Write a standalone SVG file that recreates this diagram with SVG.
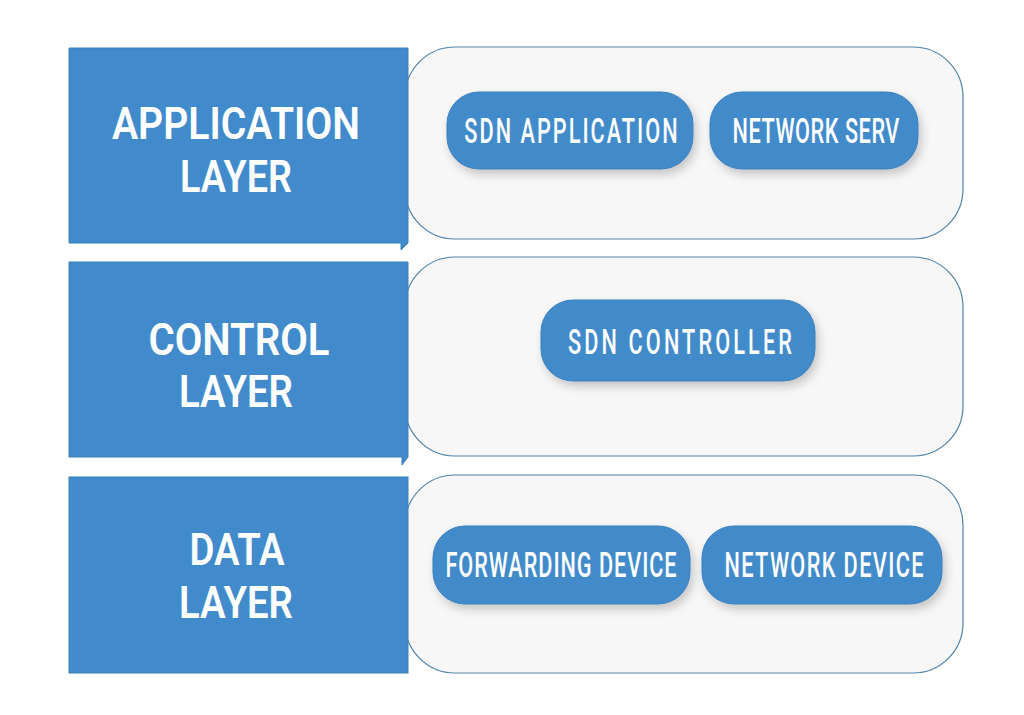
<svg xmlns="http://www.w3.org/2000/svg" width="1024" height="715" viewBox="0 0 1024 715">
<style>
.layer{fill:#418bcc;stroke:#3a80bd;stroke-width:1}
.panel{fill:#f7f7f7;stroke:#4f83ab;stroke-width:1.2}
.pill{fill:#428bca;stroke:#3a7fbc;stroke-width:1;filter:url(#sh)}
.lt{font-family:Roboto,"Liberation Sans",sans-serif;font-weight:600;font-size:45px;fill:#fff;text-anchor:middle}
.pt{font-family:Roboto,"Liberation Sans",sans-serif;font-weight:500;font-size:35px;fill:#fff;text-anchor:middle}
</style>
<defs><filter id="sh" x="-20%" y="-30%" width="140%" height="170%"><feDropShadow dx="3" dy="5" stdDeviation="5" flood-color="#000" flood-opacity="0.2"/></filter></defs>
<rect width="1024" height="715" fill="#fff"/>
<g id="panel-application"><rect class="panel" x="405" y="47" width="558" height="192" rx="50"/></g>
<g id="panel-control"><rect class="panel" x="405" y="257" width="558" height="199" rx="50"/></g>
<g id="panel-data"><rect class="panel" x="405" y="475" width="558" height="198" rx="50"/></g>
<g id="layer-application"><path class="layer" d="M69 48H408V243L401 250V243H69Z"/><text class="lt" x="236" y="139" textLength="248" lengthAdjust="spacingAndGlyphs">APPLICATION</text><text class="lt" x="236" y="192" textLength="112" lengthAdjust="spacingAndGlyphs">LAYER</text></g>
<g id="layer-control"><path class="layer" d="M69 262H408V457L402 465V457H69Z"/><text class="lt" x="239" y="355" textLength="181" lengthAdjust="spacingAndGlyphs">CONTROL</text><text class="lt" x="236" y="407" textLength="114" lengthAdjust="spacingAndGlyphs">LAYER</text></g>
<g id="layer-data"><rect class="layer" x="69" y="477" width="339" height="196"/><text class="lt" x="237" y="565" textLength="95" lengthAdjust="spacingAndGlyphs">DATA</text><text class="lt" x="236" y="618" textLength="114" lengthAdjust="spacingAndGlyphs">LAYER</text></g>
<g id="node-sdn-application"><rect class="pill" x="447" y="92" width="246" height="77" rx="32"/><text class="pt" transform="translate(571 143) scale(.62 1)" textLength="344" lengthAdjust="spacing">SDN APPLICATION</text></g>
<g id="node-network-serv"><rect class="pill" x="710" y="92" width="208" height="77" rx="32"/><text class="pt" transform="translate(816 143) scale(.62 1)" textLength="269" lengthAdjust="spacing">NETWORK SERV</text></g>
<g id="node-sdn-controller"><rect class="pill" x="541" y="300" width="274" height="81" rx="32"/><text class="pt" transform="translate(680 354) scale(.62 1)" textLength="361" lengthAdjust="spacing">SDN CONTROLLER</text></g>
<g id="node-forwarding-device"><rect class="pill" x="433" y="526" width="257" height="78" rx="32"/><text class="pt" transform="translate(561 577) scale(.62 1)" textLength="373" lengthAdjust="spacing">FORWARDING DEVICE</text></g>
<g id="node-network-device"><rect class="pill" x="702" y="526" width="240" height="78" rx="32"/><text class="pt" transform="translate(824 577) scale(.62 1)" textLength="321" lengthAdjust="spacing">NETWORK DEVICE</text></g>
<g id="connectors"></g>
</svg>
